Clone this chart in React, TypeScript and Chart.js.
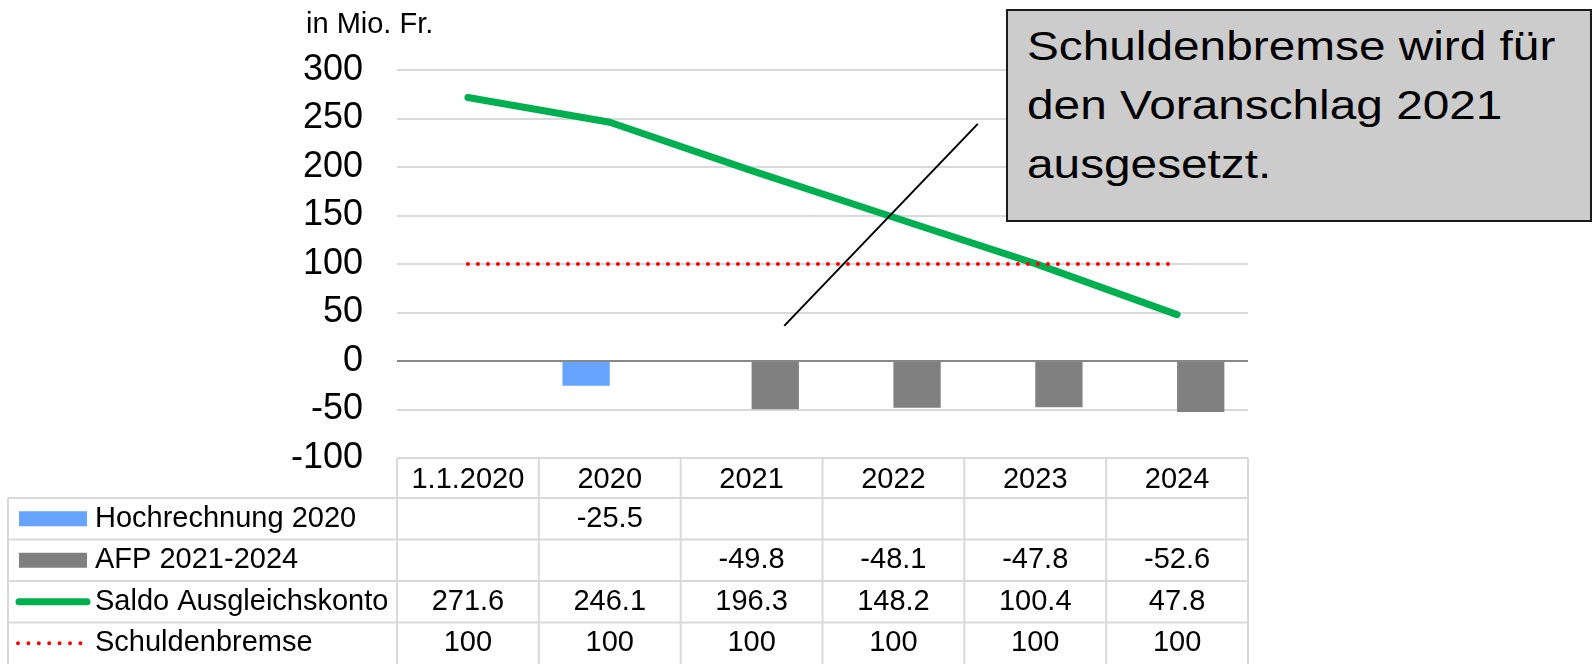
import React, { useEffect, useRef } from "react";
import { Chart, registerables } from "chart.js";

Chart.register(...registerables);

// ---- data ----
const categories = ["1.1.2020", "2020", "2021", "2022", "2023", "2024"];
const hochrechnung2020: (number | null)[] = [null, -25.5, null, null, null, null];
const afp20212024: (number | null)[] = [null, null, -49.8, -48.1, -47.8, -52.6];
const saldoAusgleichskonto = [271.6, 246.1, 196.3, 148.2, 100.4, 47.8];
const schuldenbremse = [100, 100, 100, 100, 100, 100];
const seriesNames = ["Hochrechnung 2020", "AFP 2021-2024", "Saldo Ausgleichskonto", "Schuldenbremse"];
const yMin = -100;
const yMax = 300;
const yStep = 50;
const unitLabel = "in Mio. Fr.";
const noteLines = ["Schuldenbremse wird für", "den Voranschlag 2021", "ausgesetzt."];
// pointer line in data space: [category index, value]
const pointerStart = [2.23, 36.2];
const pointerEnd = [3.595, 244.5];

const COLORS = {
  blue: "#66A3FF",
  gray: "#808080",
  green: "#00B050",
  red: "#FF0000",
  grid: "#D9D9D9",
  zero: "#888888",
};
const FONT = '"Liberation Sans", Arial, sans-serif';
const TABLE_FONT = `29px ${FONT}`;

const tablePlugin = {
  id: "dataTable",
  afterDatasetsDraw(chart: any) {
    const ctx = chart.ctx;
    const xs = chart.scales.x;
    const ys = chart.scales.y;
    ctx.save();
    ctx.strokeStyle = "#000";
    ctx.lineWidth = 2;
    ctx.beginPath();
    ctx.moveTo(xs.getPixelForValue(pointerStart[0]), ys.getPixelForValue(pointerStart[1]));
    ctx.lineTo(xs.getPixelForValue(pointerEnd[0]), ys.getPixelForValue(pointerEnd[1]));
    ctx.stroke();
    ctx.restore();
  },
  afterDraw(chart: any) {
    const ctx = chart.ctx;
    const xs = chart.scales.x;
    const area = chart.chartArea;
    const colW = xs.getPixelForValue(1) - xs.getPixelForValue(0);
    const left = area.left;
    const right = area.right;
    const legendLeft = 8;
    const headerTop = area.bottom;
    const headerBottom = headerTop + 40;
    const rowH = (chart.height - headerBottom) / 4;
    const n = categories.length;

    ctx.save();
    ctx.fillStyle = "#000";
    ctx.font = TABLE_FONT;
    ctx.textAlign = "left";
    ctx.textBaseline = "middle";
    ctx.fillText(unitLabel, 306, 25);

    ctx.strokeStyle = COLORS.grid;
    ctx.lineWidth = 2;
    ctx.beginPath();
    ctx.moveTo(left, headerTop);
    ctx.lineTo(right, headerTop);
    for (let r = 0; r < 4; r++) {
      const y = headerBottom + r * rowH;
      ctx.moveTo(legendLeft, y);
      ctx.lineTo(right, y);
    }
    for (let i = 0; i <= n; i++) {
      const x = left + i * colW;
      ctx.moveTo(x, headerTop);
      ctx.lineTo(x, chart.height);
    }
    ctx.moveTo(legendLeft, headerBottom);
    ctx.lineTo(legendLeft, chart.height);
    ctx.stroke();

    ctx.fillStyle = "#000";
    ctx.font = TABLE_FONT;
    ctx.textAlign = "center";
    ctx.textBaseline = "middle";
    categories.forEach((c, i) => {
      ctx.fillText(c, xs.getPixelForValue(i), (headerTop + headerBottom) / 2 + 2);
    });

    const rows = [hochrechnung2020, afp20212024, saldoAusgleichskonto, schuldenbremse];
    rows.forEach((vals, r) => {
      const cy = headerBottom + r * rowH + rowH / 2;
      if (r === 0 || r === 1) {
        ctx.fillStyle = r === 0 ? COLORS.blue : COLORS.gray;
        ctx.fillRect(19, cy - 7.5, 68, 15);
      } else if (r === 2) {
        ctx.strokeStyle = COLORS.green;
        ctx.lineWidth = 7;
        ctx.lineCap = "round";
        ctx.setLineDash([]);
        ctx.beginPath();
        ctx.moveTo(19, cy);
        ctx.lineTo(87, cy);
        ctx.stroke();
      } else {
        ctx.strokeStyle = COLORS.red;
        ctx.lineWidth = 4;
        ctx.lineCap = "round";
        ctx.setLineDash([0, 10.4]);
        ctx.beginPath();
        ctx.moveTo(18, cy);
        ctx.lineTo(81, cy);
        ctx.stroke();
        ctx.setLineDash([]);
      }
      ctx.fillStyle = "#000";
      ctx.font = TABLE_FONT;
      ctx.textAlign = "left";
      ctx.fillText(seriesNames[r], 95, cy);
      ctx.textAlign = "center";
      vals.forEach((v, i) => {
        if (v === null || v === undefined) return;
        ctx.fillText(String(v), xs.getPixelForValue(i), cy);
      });
    });
    ctx.restore();
  },
};

function ChartView() {
  const ref = useRef<HTMLCanvasElement | null>(null);
  useEffect(() => {
    if (!ref.current) return;
    const chart = new Chart(ref.current, {
      type: "bar",
      data: {
        labels: categories,
        datasets: [
          {
            type: "line",
            label: seriesNames[3],
            data: schuldenbremse,
            borderColor: COLORS.red,
            borderWidth: 4,
            borderDash: [0, 10],
            borderCapStyle: "round",
            pointRadius: 0,
            fill: false,
            order: 0,
          } as any,
          {
            type: "line",
            label: seriesNames[2],
            data: saldoAusgleichskonto,
            borderColor: COLORS.green,
            borderWidth: 7,
            borderCapStyle: "round",
            borderJoinStyle: "round",
            pointRadius: 0,
            fill: false,
            tension: 0,
            order: 1,
          } as any,
          {
            type: "bar",
            label: seriesNames[0],
            data: hochrechnung2020,
            backgroundColor: COLORS.blue,
            categoryPercentage: 0.667,
            barPercentage: 1,
            order: 2,
          } as any,
          {
            type: "bar",
            label: seriesNames[1],
            data: afp20212024,
            backgroundColor: COLORS.gray,
            categoryPercentage: 0.667,
            barPercentage: 1,
            order: 3,
          } as any,
        ],
      },
      options: {
        responsive: false,
        animation: false,
        devicePixelRatio: 1,
        layout: { padding: { top: 70, bottom: 206, left: 0, right: 346 } },
        plugins: { legend: { display: false }, tooltip: { enabled: false } },
        scales: {
          x: {
            type: "category",
            display: false,
            offset: true,
            grid: { display: false },
          },
          y: {
            min: yMin,
            max: yMax,
            ticks: {
              stepSize: yStep,
              color: "#000",
              font: { family: FONT, size: 36 },
              padding: 34,
            },
            border: { display: false },
            grid: {
              drawTicks: false,
              lineWidth: 2,
              color: (c: any) => (c.tick && c.tick.value === 0 ? COLORS.zero : COLORS.grid),
            },
            afterFit: (scale: any) => {
              scale.width = 397;
            },
          },
        },
      } as any,
      plugins: [tablePlugin],
    });
    return () => chart.destroy();
  }, []);
  return <canvas ref={ref} width={1594} height={664} style={{ display: "block", width: 1594, height: 664 }} />;
}

export default function App() {
  return (
    <div style={{ position: "fixed", left: 0, top: 0, width: 1594, height: 664, background: "#fff", overflow: "hidden" }}>
      <ChartView />
      <div
        style={{
          position: "absolute",
          left: 1006,
          top: 9,
          width: 586,
          height: 213,
          boxSizing: "border-box",
          border: "2px solid #1a1a1a",
          background: "#CCCCCC",
          overflow: "hidden",
        }}
      >
        <div
          style={{
            position: "absolute",
            left: 19,
            top: 6,
            fontFamily: FONT,
            fontSize: 41,
            lineHeight: "59px",
            color: "#000",
            whiteSpace: "nowrap",
            transform: "scaleX(1.165)",
            transformOrigin: "left top",
          }}
        >
          {noteLines.map((l, i) => (
            <div key={i}>{l}</div>
          ))}
        </div>
      </div>
    </div>
  );
}
